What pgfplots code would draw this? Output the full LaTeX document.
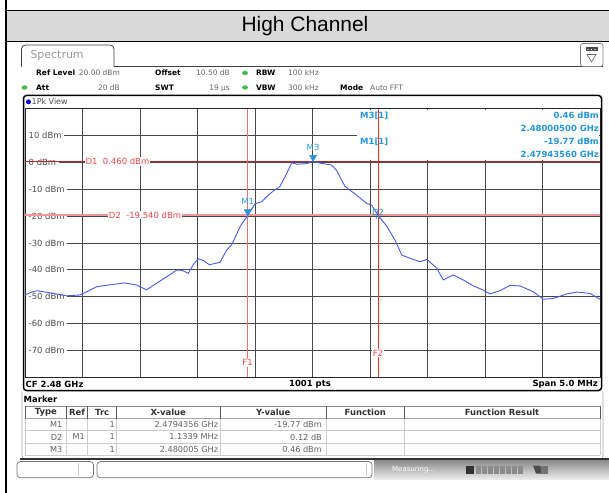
\documentclass[border=0pt]{standalone}
\usepackage{fontspec}
\setmainfont{DejaVu Sans}
\newfontfamily\arialfont{Liberation Sans}
\usepackage{pgfplots}
\usepackage{pgfplotstable}
\pgfplotsset{compat=1.18}
\definecolor{tracec}{RGB}{70,90,235}
\definecolor{mkblue}{RGB}{35,150,220}
\definecolor{dOne}{RGB}{190,40,40}
\definecolor{dTwo}{RGB}{245,150,150}
\definecolor{fOne}{RGB}{240,110,110}
\definecolor{fTwo}{RGB}{250,45,45}
\definecolor{txtred}{RGB}{240,70,70}
\definecolor{okgreen}{RGB}{70,185,80}
\newcommand\fs[1]{\fontsize{#1}{#1}\selectfont}

\pgfplotstableread{
f p
2477.500 -49.4
2477.552 -48.4
2477.602 -47.8
2477.717 -48.6
2477.863 -49.7
2477.978 -49.4
2478.037 -48.2
2478.123 -46.3
2478.239 -45.6
2478.370 -44.9
2478.471 -45.7
2478.558 -47.5
2478.645 -45.0
2478.732 -42.6
2478.819 -40.1
2478.865 -40.2
2478.920 -41.3
2478.963 -38.1
2479.007 -35.9
2479.050 -36.5
2479.103 -38.1
2479.196 -37.2
2479.254 -32.6
2479.297 -30.7
2479.370 -23.9
2479.4356 -19.77
2479.500 -15.4
2479.558 -14.6
2479.602 -12.7
2479.659 -10.6
2479.717 -8.9
2479.776 -4.0
2479.819 -0.1
2479.863 -0.6
2479.950 -0.4
2480.005 0.46
2480.080 -0.3
2480.167 -0.9
2480.210 -3.0
2480.283 -8.9
2480.384 -12.2
2480.471 -15.2
2480.515 -15.9
2480.5695 -19.65
2480.645 -23.7
2480.717 -28.9
2480.776 -34.5
2480.848 -35.7
2480.935 -37.0
2480.993 -36.1
2481.050 -38.2
2481.080 -39.4
2481.137 -43.8
2481.224 -41.9
2481.311 -43.8
2481.398 -46.0
2481.471 -47.3
2481.543 -49.0
2481.630 -47.8
2481.717 -45.8
2481.804 -46.0
2481.920 -48.2
2482.007 -51.0
2482.094 -50.7
2482.210 -49.0
2482.297 -48.3
2482.413 -48.8
2482.500 -51.0
}\tracetab

\begin{document}
\begin{tikzpicture}[x=1bp,y=-1bp]
% title band
\fill[gray!30] (7,10.5) rectangle (609,41.5);
\draw[black, line width=1.4bp] (6,10.3) -- (609,10.3);
\draw[black, line width=1.2bp] (6,41.5) -- (609,41.5);
\draw[black, line width=2.3bp] (6.3,0) -- (6.3,493);
\node[font=\arialfont\fs{21}] at (305,26.5) {High Channel};

% spectrum tab
\draw[black!75, line width=0.8bp, rounded corners=4bp] (21.5,67) -- (21.5,45) -- (114,45) -- (114,67);
\draw[black!75, line width=0.8bp] (113.6,66.8) -- (603,66.8);
\node[anchor=west, text=black!40, font=\fs{11}] at (27,56) {Spectrum};
% dropdown icon
\draw[black!50, rounded corners=2.5bp, line width=0.7bp] (580.5,43.5) rectangle (603,66.5);
\fill[black!70] (585.5,47.5) rectangle (597.5,51.5);
\foreach \q in {588,591.5,595} \fill[white] (\q,49.5) circle (0.7);
\draw[black!60, line width=0.6bp] (587,54.5) -- (596,54.5) -- (591.5,62) -- cycle;

% info lines
\begin{scope}[every node/.style={inner sep=0, font=\fs{7.5}}]
\node[anchor=base west, font=\bfseries\fs{7.5}] at (36,76) {Ref Level};
\node[anchor=base east, text=black!60] at (120,76) {20.00 dBm};
\node[anchor=base west, font=\bfseries\fs{7.5}] at (155,76) {Offset};
\node[anchor=base east, text=black!60] at (230,76) {10.50 dB};
\node[anchor=base west, font=\bfseries\fs{7.5}] at (256,76) {RBW};
\node[anchor=base west, text=black!60] at (288,76) {100 kHz};
\node[anchor=base west, font=\bfseries\fs{7.5}] at (36,90.5) {Att};
\node[anchor=base east, text=black!60] at (120,90.5) {20 dB};
\node[anchor=base west, font=\bfseries\fs{7.5}] at (155,90.5) {SWT};
\node[anchor=base east, text=black!60] at (230,90.5) {19 µs};
\node[anchor=base west, font=\bfseries\fs{7.5}] at (256,90.5) {VBW};
\node[anchor=base west, text=black!60] at (288,90.5) {300 kHz};
\node[anchor=base west, font=\bfseries\fs{7.5}] at (340,90.5) {Mode};
\node[anchor=base west, text=black!60] at (370,90.5) {Auto FFT};
\end{scope}
\fill[okgreen] (245,73) ellipse (3 and 2.2);
\fill[okgreen] (245,87.5) ellipse (3 and 2.2);
\fill[okgreen] (24.5,87.5) ellipse (3 and 2.2);

% diagram frame
\draw[black, line width=1.5bp, rounded corners=3bp] (23.5,95.5) rectangle (601.5,390.5);
\fill[blue!85!black] (28.5,101.8) circle (2.5);
\node[anchor=west, inner sep=0, text=black!70, font=\fs{8}] at (31.5,101.8) {1Pk View};

\begin{axis}[
  at={(25bp,-377bp)}, anchor=south west,
  scale only axis, width=575bp, height=268bp,
  xmin=2477.5, xmax=2482.5, ymin=-80, ymax=20,
  set layers,
  xtick={2477.5,2478,2478.5,2479,2479.5,2480,2480.5,2481,2481.5,2482,2482.5},
  xticklabels={},
  ytick={-70,-60,-50,-40,-30,-20,-10,0,10},
  yticklabels={-70 dBm,-60 dBm,-50 dBm,-40 dBm,-30 dBm,-20 dBm,-10 dBm,0 dBm,10 dBm},
  yticklabel style={anchor=west, xshift=1bp, fill=white, inner sep=2.5bp, text=black!70, font=\fs{8.5}},
  major tick length=0pt,
  grid=major,
  major grid style={black!72, line width=0.8bp},
  axis line style={black!85, line width=1bp},
  clip=false,
]
\fill[white] (axis cs:2480.39,1.1) rectangle (axis cs:2482.49,19.75);
\addplot[dOne, line width=1.3bp] coordinates {(2477.5,0.46) (2482.5,0.46)}
  node[pos=0.1026, anchor=west, fill=white, inner sep=1bp, text=txtred, font=\fs{8.5}] {D1\ \ 0.460 dBm};
\addplot[dTwo, line width=2bp] coordinates {(2477.5,-19.54) (2482.5,-19.54)}
  node[pos=0.1426, anchor=west, fill=white, inner sep=1bp, text=txtred, font=\fs{8.5}] {D2\ \ -19.540 dBm};
\addplot[fOne, line width=1.6bp] coordinates {(2479.4356,-80) (2479.4356,20)}
  node[pos=0.053, fill=white, inner sep=1bp, text=txtred, font=\fs{8.5}] {F1};
\addplot[fTwo, line width=0.9bp] coordinates {(2480.5695,-80) (2480.5695,20)}
  node[pos=0.09, fill=white, inner sep=1bp, text=txtred, font=\fs{8.5}] {F2};
\addplot[tracec, line width=0.9bp] table[x=f, y=p] {\tracetab};
\addplot[only marks, mark=triangle*, mark size=4bp, color=mkblue,
  mark options={yshift=4bp, rotate=180},
  point meta=explicit symbolic, nodes near coords,
  every node near coord/.style={anchor=south, yshift=6.5bp, inner sep=0.5bp, text=mkblue, font=\fs{8.5}}]
  coordinates {(2479.4356,-19.77) [M1] (2480.005,0.46) [M3]};
\addplot[only marks, mark=triangle, mark size=2.5bp, color=mkblue,
  mark options={yshift=-2.5bp},
  point meta=explicit symbolic, nodes near coords,
  every node near coord/.style={anchor=south, yshift=1.5bp, inner sep=0.5bp, text=mkblue, font=\fs{8.5}}]
  coordinates {(2480.5695,-19.65) [D2]};
\end{axis}

% marker info
\begin{scope}[every node/.style={inner sep=0, text=mkblue, font=\bfseries\fs{8.5}}]
\node[anchor=base west] at (360,118.5) {M3[1]};
\node[anchor=base east] at (599,118.5) {0.46 dBm};
\node[anchor=base east] at (599,131.5) {2.48000500 GHz};
\node[anchor=base west] at (360,144.5) {M1[1]};
\node[anchor=base east] at (599,144.5) {-19.77 dBm};
\node[anchor=base east] at (599,157.5) {2.47943560 GHz};
\end{scope}

% footer
\node[anchor=west, inner sep=0, font=\bfseries\fs{8.5}] at (25.5,384.3) {CF 2.48 GHz};
\node[inner sep=0, font=\bfseries\fs{8.5}] at (310,384.3) {1001 pts};
\node[anchor=east, inner sep=0, font=\bfseries\fs{8.5}] at (598,384.3) {Span 5.0 MHz};

% marker table
\draw[black!35, line width=0.7bp, rounded corners=3bp] (22,392) -- (22,459) -- (603,459) -- (603,392);
\node[anchor=west, inner sep=0, font=\bfseries\fs{8.5}] at (23.5,399.5) {Marker};
\draw[black!45, line width=0.7bp] (25,406.3) -- (600,406.3);
\draw[black!35, line width=0.7bp] (25,418.7) -- (600,418.7);
\foreach \yy in {430.8,443,455.3} \draw[black!20, line width=0.8bp] (25,\yy) -- (600,\yy);
\foreach \xx in {25,66.7,87.7,116.7,220,326.7,404,600} {
  \draw[black!65, line width=0.8bp] (\xx,406.3) -- (\xx,418.7);
  \draw[black!20, line width=0.8bp] (\xx,418.7) -- (\xx,455.3);
}
\begin{scope}[every node/.style={inner sep=0, font=\bfseries\fs{8.5}, text=black!80}]
\node at (45.8,412.5) {Type};
\node at (77.2,412.5) {Ref};
\node at (102.2,412.5) {Trc};
\node at (168.3,412.5) {X-value};
\node at (273.3,412.5) {Y-value};
\node at (365.3,412.5) {Function};
\node at (502,412.5) {Function Result};
\end{scope}
\begin{scope}[every node/.style={inner sep=0, anchor=east, font=\fs{8.2}, text=black!62}]
\node at (62.5,424.8) {M1};
\node at (115,424.8) {1};
\node at (218.3,424.8) {2.4794356 GHz};
\node at (322,424.8) {-19.77 dBm};
\node at (62.5,437) {D2};
\node at (85,437) {M1};
\node at (115,437) {1};
\node at (218.3,437) {1.1339 MHz};
\node at (322,437) {0.12 dB};
\node at (62.5,449.2) {M3};
\node at (115,449.2) {1};
\node at (218.3,449.2) {2.480005 GHz};
\node at (322,449.2) {0.46 dBm};
\end{scope}
\draw[black!80, line width=1.8bp] (20,459.3) -- (609,459.3);

% status bar
\shade[top color=black!45, bottom color=black!8] (374,460.5) rectangle (609,479);
\draw[black!55, line width=0.7bp, rounded corners=3.5bp, fill=white] (17,461.5) rectangle (93.5,477.8);
\draw[black!20, line width=0.6bp] (78,463) -- (78,476);
\draw[black!55, line width=0.7bp, rounded corners=3.5bp, fill=white] (97,461.5) rectangle (372,477.8);
\draw[black!20, line width=0.6bp] (366,463) -- (366,476);
\node[anchor=west, inner sep=0, text=white, font=\fs{7}] at (392,469.5) {Measuring...};
\fill[black!80] (466,465.5) rectangle (474,473.5);
\foreach \q in {475.5,481.5,487.5,493.5,499.5,505.5,511.5,517.5} \fill[black!45] (\q,465.5) rectangle ++(5,8);
\fill[black!70] (533,465.5) -- (540,465.5) -- (543,473.5) -- (536,473.5) -- cycle;
\fill[black!55] (541,465.5) rectangle (548,473.5);
\pgfresetboundingbox
\path[use as bounding box] (0,0) rectangle (609,493);
\end{tikzpicture}
\end{document}
